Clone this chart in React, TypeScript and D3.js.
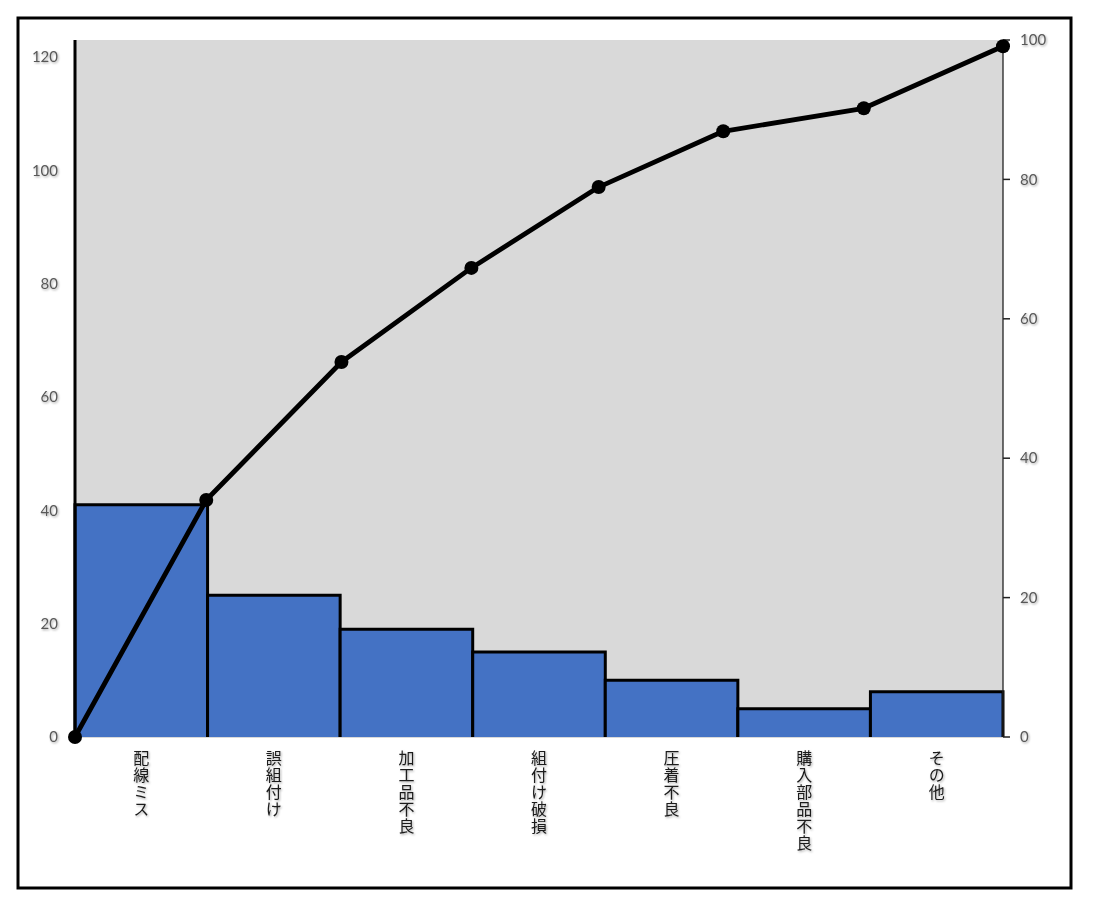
import React from "react";
import * as d3 from "d3";

const categories = ["配線ミス", "誤組付け", "加工品不良", "組付け破損", "圧着不良", "購入部品不良", "その他"];
const counts = [41, 25, 19, 15, 10, 5, 8];
// cumulative line: x in category units, y in percent (right axis)
const lineX = [0, 0.99, 2.01, 2.99, 3.95, 4.89, 5.95, 7];
const linePct = [0, 34.0, 53.8, 67.3, 78.9, 86.9, 90.2, 99.1];
const leftTicks = [0, 20, 40, 60, 80, 100, 120];
const rightTicks = [0, 20, 40, 60, 80, 100];
const leftMax = 123;
const rightMax = 100;

const W = 1098;
const H = 908;
const plot = { left: 75, right: 1003, top: 40, bottom: 737 };

export default function App() {
  const x = d3.scaleBand<string>().domain(categories).range([plot.left, plot.right]).padding(0);
  const xc = d3.scaleLinear().domain([0, categories.length]).range([plot.left, plot.right]);
  const yL = d3.scaleLinear().domain([0, leftMax]).range([plot.bottom, plot.top]);
  const yR = d3.scaleLinear().domain([0, rightMax]).range([plot.bottom, plot.top]);
  const bw = x.bandwidth();

  const pts: [number, number][] = lineX.map((v, i) => [xc(v), yR(linePct[i])]);
  const lineGen = d3.line<[number, number]>().x((d) => d[0]).y((d) => d[1]);

  const tickFont = "Lato, 'Open Sans', sans-serif";
  const jpFont = "'Noto Sans CJK JP', sans-serif";

  return (
    <svg width={W} height={H} style={{ position: "absolute", left: 0, top: 0 }} xmlns="http://www.w3.org/2000/svg">
      <defs>
        <filter id="sh" x="-20%" y="-20%" width="140%" height="140%">
          <feDropShadow dx="1" dy="1.2" stdDeviation="0.8" floodColor="#000" floodOpacity="0.35" />
        </filter>
      </defs>
      <rect x={0} y={0} width={W} height={H} fill="#fff" />
      <rect x={18} y={18} width={1053} height={870} fill="#fff" stroke="#000" strokeWidth={3} />
      {/* plot background */}
      <rect x={plot.left} y={plot.top} width={plot.right - plot.left} height={plot.bottom - plot.top + 1} fill="#d9d9d9" />
      {/* bars */}
      {categories.map((c, i) => {
        const x0 = x(c)!;
        const y0 = yL(counts[i]);
        return (
          <g key={c}>
            <rect x={x0} y={y0} width={bw} height={plot.bottom - y0} fill="#4472c4" />
            <path
              d={`M${x0},${plot.bottom}V${y0}H${x0 + bw}V${plot.bottom}`}
              fill="none"
              stroke="#000"
              strokeWidth={3}
            />
          </g>
        );
      })}
      {/* left axis */}
      <line x1={plot.left} x2={plot.left} y1={plot.top} y2={plot.bottom} stroke="#000" strokeWidth={3} />
      {/* right axis */}
      <line x1={plot.right} x2={plot.right} y1={plot.top} y2={plot.bottom} stroke="#222" strokeWidth={1.3} />
      {rightTicks.map((t) => (
        <line key={t} x1={plot.right} x2={plot.right + 7} y1={yR(t)} y2={yR(t)} stroke="#222" strokeWidth={1.5} />
      ))}
      {/* cumulative line */}
      <path d={lineGen(pts)!} fill="none" stroke="#000" strokeWidth={4.8} strokeLinejoin="round" />
      {pts.map((p, i) => (
        <circle key={i} cx={p[0]} cy={p[1]} r={7} fill="#000" />
      ))}
      <g filter="url(#sh)">
        {leftTicks.map((t) => (
          <text key={t} x={58} y={yL(t)} dy="0.35em" textAnchor="end" fontFamily={tickFont} fontSize={15} fill="#595959">
            {t}
          </text>
        ))}
        {rightTicks.map((t) => (
          <text key={t} x={1020} y={yR(t)} dy="0.35em" textAnchor="start" fontFamily={tickFont} fontSize={15} fill="#595959">
            {t}
          </text>
        ))}
        {/* category labels, vertical */}
        {categories.map((c) => (
          <text
            key={c}
            x={x(c)! + bw / 2}
            y={750}
            textAnchor="start"
            fontFamily={jpFont}
            fontSize={16}
            fill="#1a1a1a"
            style={{ writingMode: "vertical-rl", letterSpacing: "1px" }}
          >
            {c}
          </text>
        ))}
      </g>
    </svg>
  );
}
